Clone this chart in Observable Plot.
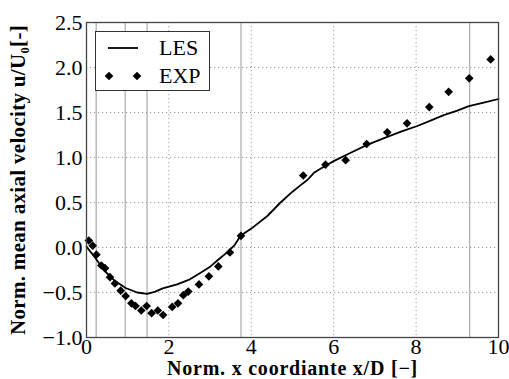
<!DOCTYPE html>
<html>
<head>
<meta charset="utf-8">
<script src="https://cdn.jsdelivr.net/npm/d3@7"></script>
<script src="https://cdn.jsdelivr.net/npm/@observablehq/plot@0.6"></script>
<style>
  html, body { margin: 0; padding: 0; background: white; }
  #chart svg { display: block; }
</style>
</head>
<body>
<div id="chart"></div>
<script>
// ---- data ----
const probeX = [0.235, 0.94, 1.47, 3.75, 9.3];

const lesX = [0, 0.22, 0.42, 0.66, 0.95, 1.23, 1.47, 1.67, 1.85, 1.96, 2.20, 2.48, 2.77, 3.01, 3.21, 3.45, 3.60, 3.74, 4.00, 4.39, 4.71, 5.00, 5.19, 5.36, 5.52, 5.84, 6.00, 6.40, 6.81, 7.30, 7.65, 8.03, 8.35, 8.67, 9.00, 9.28, 9.64, 10.0];
const lesY = [0.01, -0.12, -0.25, -0.36, -0.45, -0.50, -0.515, -0.49, -0.455, -0.44, -0.41, -0.36, -0.28, -0.21, -0.13, -0.04, 0.03, 0.13, 0.21, 0.35, 0.50, 0.62, 0.69, 0.75, 0.83, 0.92, 0.96, 1.05, 1.14, 1.23, 1.29, 1.35, 1.41, 1.47, 1.52, 1.57, 1.61, 1.65];

const expX = [0.056, 0.15, 0.24, 0.36, 0.45, 0.57, 0.69, 0.83, 0.95, 1.09, 1.19, 1.33, 1.46, 1.58, 1.73, 1.86, 2.08, 2.22, 2.35, 2.47, 2.73, 2.97, 3.20, 3.48, 3.75, 5.26, 5.80, 6.29, 6.80, 7.30, 7.78, 8.32, 8.79, 9.29, 9.81];
const expY = [0.078, 0.02, -0.08, -0.20, -0.23, -0.33, -0.40, -0.48, -0.54, -0.62, -0.65, -0.70, -0.65, -0.73, -0.70, -0.75, -0.66, -0.62, -0.53, -0.49, -0.41, -0.32, -0.21, -0.055, 0.13, 0.80, 0.92, 0.97, 1.15, 1.28, 1.38, 1.56, 1.73, 1.88, 2.09];

const xTicks = [0, 2, 4, 6, 8, 10];
const yTicks = [-1.0, -0.5, 0.0, 0.5, 1.0, 1.5, 2.0, 2.5];
const xLabel = "Norm. x coordiante x/D [\u2212]";
const yLabel = "Norm. mean axial velocity u/U\u2080[-]";
const seriesNames = ["LES", "EXP"];

// ---- tables ----
const les = lesX.map((x, i) => ({x, y: lesY[i]}));
const exp = expX.map((x, i) => ({x, y: expY[i]}));

const FONT = "Liberation Serif";
const gridStyle = {stroke: "#999", strokeOpacity: 1, strokeWidth: 1, strokeDasharray: "1.2,2.8"};

const chart = Plot.plot({
  width: 509,
  height: 379,
  marginLeft: 86,
  marginRight: 11,
  marginTop: 22,
  marginBottom: 42,
  x: {domain: [0, 10]},
  y: {domain: [-1, 2.5]},
  style: {background: "white", color: "black", overflow: "visible", fontFamily: FONT},
  marks: [
    Plot.gridX(xTicks.slice(1, -1), gridStyle),
    Plot.gridY(yTicks.slice(1, -1), gridStyle),
    Plot.ruleX(probeX, {stroke: "#aaa", strokeWidth: 1.2}),
    Plot.axisX(xTicks, {tickSize: 0, tickPadding: 1, fontSize: 22, fontFamily: FONT, label: null,
      tickFormat: d => String(d)}),
    Plot.axisY(yTicks, {tickSize: 0, tickPadding: 4, fontSize: 22, fontFamily: FONT, label: null,
      tickFormat: d => d.toFixed(1).replace("-", "\u2212")}),
    Plot.text([xLabel], {frameAnchor: "bottom", dy: 31.5, fontSize: 20, fontWeight: "bold", fontFamily: FONT,
      fill: "black", textAnchor: "middle", lineAnchor: "middle"}),
    Plot.text([yLabel], {frameAnchor: "left", dx: -68, rotate: -90, fontSize: 21, fontWeight: "bold", fontFamily: FONT,
      fill: "black", textAnchor: "middle", lineAnchor: "middle"}),
    Plot.line(les, {x: "x", y: "y", stroke: "black", strokeWidth: 1.8}),
    Plot.dot(exp, {x: "x", y: "y", symbol: "diamond2", fill: "black", stroke: "none", r: 3.9}),
    Plot.frame({stroke: "#444", strokeWidth: 1.3})
  ]
});

// ---- legend (inside the plot area, upper left) ----
const svg = d3.select(chart);
const lg = svg.append("g");
lg.append("rect").attr("x", 95.5).attr("y", 31.5).attr("width", 114).attr("height", 59)
  .attr("fill", "white").attr("stroke", "#333").attr("stroke-width", 1);
lg.append("line").attr("x1", 108).attr("x2", 138).attr("y1", 48).attr("y2", 48)
  .attr("stroke", "black").attr("stroke-width", 1.8);
const dsym = d3.symbol(d3.symbolDiamond2, Math.PI * 3.9 * 3.9);
[109, 137].forEach(cx => lg.append("path").attr("d", dsym()).attr("transform", `translate(${cx},76)`).attr("fill", "black"));
lg.append("text").attr("x", 159).attr("y", 55).attr("font-size", 22).attr("text-anchor", "start").text(seriesNames[0]);
lg.append("text").attr("x", 159).attr("y", 83).attr("font-size", 22).attr("text-anchor", "start").text(seriesNames[1]);

svg.selectAll("g, text, tspan").attr("font-family", FONT).style("font-family", FONT);

document.getElementById("chart").append(chart);

// stretch the bold axis titles to the reference widths (wider Computer Modern look)
function fitWidth(label, target) {
  svg.selectAll("text").filter(function () { return this.textContent === label; }).each(function () {
    const len = this.getComputedTextLength();
    const n = label.length;
    if (len > 0 && len < target) d3.select(this).style("letter-spacing", ((target - len) / n) + "px");
  });
}
fitWidth(xLabel, 251);
fitWidth(yLabel, 310);
</script>
</body>
</html>
